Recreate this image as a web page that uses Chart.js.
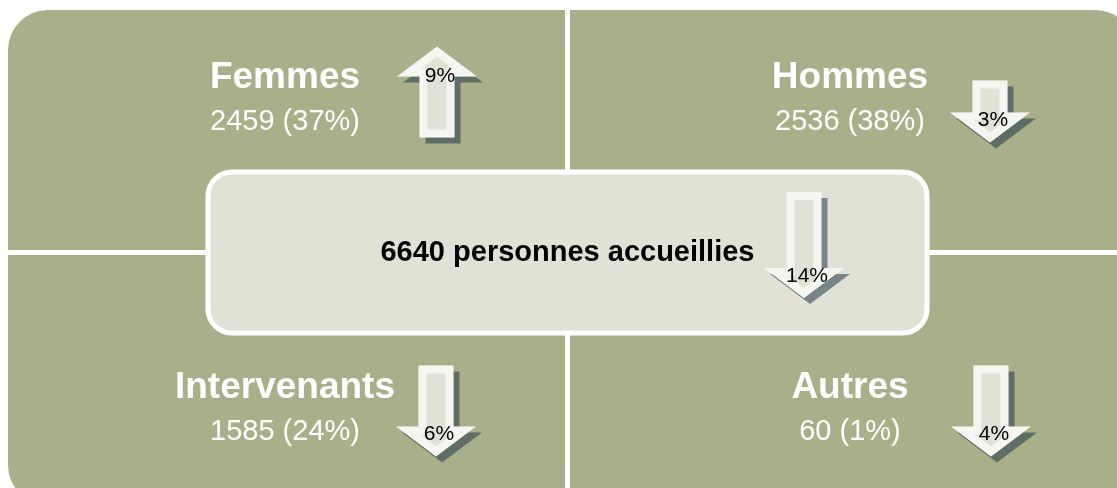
<!DOCTYPE html>
<html>
<head>
<meta charset="utf-8">
<script src="https://cdn.jsdelivr.net/npm/chart.js@4.4.0/dist/chart.umd.min.js"></script>
<style>
  html, body { margin: 0; padding: 0; background: #fff; }
  canvas { display: block; }
</style>
</head>
<body>
<canvas id="chart" width="1117" height="488"></canvas>
<script>
// Chart data
const categories = ["Femmes", "Hommes", "Intervenants", "Autres"];
const counts = [2459, 2536, 1585, 60];
const shares = [37, 38, 24, 1];
const changes = [9, -3, -6, -4]; // % change, sign gives arrow direction
const totalCount = 6640;
const totalLabel = "personnes accueillies";
const totalChange = -14;

// Layout (pixel offsets from each cell centre)
const arrowDx = [152, 140, 151, 141];
const arrowTail = [10, -47, -12, -12];
const arrowTip = [-81, 15, 79, 79];

const panelColor = "#a9b089";
const boxColor = "#e1e2d5";
const arrowColor = "#f5f5f2";
const shadowColor = "rgba(35,55,75,0.55)";
const FONT = "Arial, 'Liberation Sans', sans-serif";

// grid cell of each category: two columns, two rows
const points = categories.map((c, i) => ({ x: i % 2, y: 1 - Math.floor(i / 2) }));

function arrowPath(ctx, cx, tail, tip) {
  const sw = 35, hw = 80, hl = 30;
  const dir = Math.sign(tip - tail);
  const base = tip - dir * hl;
  ctx.beginPath();
  ctx.moveTo(cx - sw / 2, tail);
  ctx.lineTo(cx - sw / 2, base);
  ctx.lineTo(cx - hw / 2, base);
  ctx.lineTo(cx, tip);
  ctx.lineTo(cx + hw / 2, base);
  ctx.lineTo(cx + sw / 2, base);
  ctx.lineTo(cx + sw / 2, tail);
  ctx.closePath();
  return base;
}

function drawArrow(ctx, cx, tail, tip, change) {
  // drop shadow
  ctx.save();
  ctx.translate(6, 6);
  arrowPath(ctx, cx, tail, tip);
  ctx.fillStyle = shadowColor;
  ctx.fill();
  ctx.restore();

  // arrow body: pale inside, white band along the edge
  ctx.save();
  const base = arrowPath(ctx, cx, tail, tip);
  ctx.clip();
  ctx.fillStyle = boxColor;
  ctx.fill();
  ctx.lineWidth = 16;
  ctx.lineJoin = "miter";
  ctx.miterLimit = 10;
  ctx.strokeStyle = arrowColor;
  ctx.stroke();
  ctx.restore();

  const dir = Math.sign(tip - tail);
  ctx.fillStyle = "#000";
  ctx.font = "21px " + FONT;
  ctx.textAlign = "center";
  ctx.textBaseline = "middle";
  ctx.fillText(Math.abs(change) + "%", cx + 3, base + (dir > 0 ? 8 : 0));
}

const infographic = {
  id: "infographic",
  beforeDraw(chart) {
    const ctx = chart.ctx;
    const xs = chart.scales.x, ys = chart.scales.y;
    const midX = xs.getPixelForValue(0.5), midY = ys.getPixelForValue(0.5);
    const gap = 2.5;

    ctx.save();
    ctx.fillStyle = "#fff";
    ctx.fillRect(0, 0, chart.width, chart.height);

    // quadrant panels
    points.forEach((p) => {
      const left = p.x === 0 ? xs.getPixelForValue(-0.5) + 5.5 : midX + gap;
      const right = p.x === 0 ? midX - gap : xs.getPixelForValue(1.5) + 2.5;
      const top = p.y === 1 ? ys.getPixelForValue(1.5) + 7.5 : midY + gap;
      const bottom = p.y === 1 ? midY - gap : ys.getPixelForValue(-0.5) + 2.5;
      let radii;
      if (p.x === 0 && p.y === 1) radii = [40, 0, 0, 0];
      else if (p.x === 1 && p.y === 1) radii = [0, 40, 0, 0];
      else if (p.x === 1) radii = [0, 0, 40, 0];
      else radii = [0, 0, 0, 40];
      ctx.beginPath();
      ctx.roundRect(left, top, right - left, bottom - top, radii);
      ctx.fillStyle = panelColor;
      ctx.fill();
    });

    // category texts and arrows
    points.forEach((p, i) => {
      const px = xs.getPixelForValue(p.x);
      const py = ys.getPixelForValue(p.y);
      const shift = p.y === 1 ? -28 : 32;
      ctx.fillStyle = "#fff";
      ctx.textAlign = "center";
      ctx.textBaseline = "middle";
      ctx.font = "bold 37px " + FONT;
      ctx.fillText(categories[i], px, py + shift - 22);
      ctx.font = "29px " + FONT;
      ctx.fillText(counts[i] + " (" + shares[i] + "%)", px, py + shift + 22);
      drawArrow(ctx, px + arrowDx[i], py + arrowTail[i], py + arrowTip[i], changes[i]);
    });

    // centre box
    const bw = 719, bh = 161;
    ctx.beginPath();
    ctx.roundRect(midX - bw / 2, midY - bh / 2, bw, bh, 24);
    ctx.fillStyle = boxColor;
    ctx.fill();
    ctx.lineWidth = 5;
    ctx.strokeStyle = "#fff";
    ctx.stroke();

    ctx.fillStyle = "#000";
    ctx.font = "bold 29px " + FONT;
    ctx.textAlign = "center";
    ctx.textBaseline = "middle";
    ctx.fillText(totalCount + " " + totalLabel, midX, midY);

    drawArrow(ctx, midX + 236.5, midY - 60.5, midY + 45.5, totalChange);
    ctx.restore();
  }
};

new Chart(document.getElementById("chart").getContext("2d"), {
  type: "scatter",
  data: {
    datasets: [{ data: points, pointRadius: 0 }]
  },
  options: {
    responsive: false,
    animation: false,
    layout: { padding: 0 },
    scales: {
      x: { type: "linear", display: false, min: -0.5044, max: 1.4726 },
      y: { type: "linear", display: false, min: -0.442, max: 1.51 }
    },
    plugins: { legend: { display: false }, tooltip: { enabled: false } }
  },
  plugins: [infographic]
});
</script>
</body>
</html>
